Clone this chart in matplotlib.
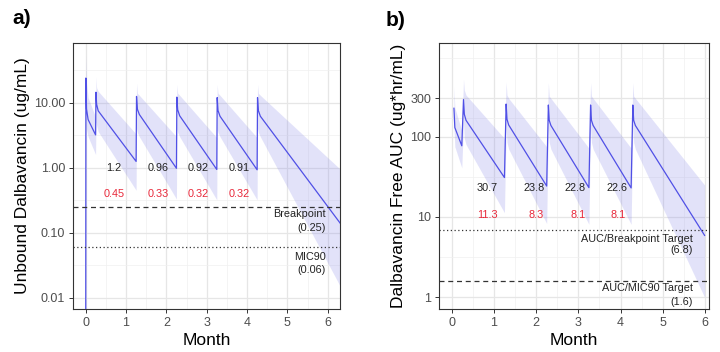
import matplotlib
matplotlib.use('Agg')
import matplotlib.pyplot as plt
from matplotlib.ticker import FixedLocator, NullFormatter

plt.rcParams['font.family'] = ['Liberation Sans', 'DejaVu Sans']

# ---------------- Panel a: unbound concentration ----------------
month_a = [0.0, 0.005, 0.02, 0.06, 0.245, 0.255, 0.27, 0.31, 1.25, 1.26, 1.28, 1.33,
           2.25, 2.26, 2.28, 2.33, 3.25, 3.26, 3.28, 3.33, 4.25, 4.26, 4.28, 4.33, 6.31]
median_a = [0.001, 24, 8, 5.5, 3.2, 14.5, 9.5, 7.5, 1.25, 12.5, 8.0, 6.6,
            0.98, 12.2, 7.8, 6.3, 0.94, 12.0, 7.6, 6.2, 0.93, 12.0, 7.6, 6.2, 0.14]
lower_a = [0.001, 10, 4, 3, 1.6, 5, 4.5, 3.6, 0.45, 4, 3.5, 3.0,
           0.33, 4, 3.5, 3.0, 0.32, 4, 3.5, 3.0, 0.32, 4, 3.5, 3.0, 0.015]
upper_a = [0.001, 55, 20, 12, 6, 25, 17, 15, 3.3, 20, 14, 13,
           3.0, 19, 14, 13, 2.9, 19, 14, 13, 2.9, 19, 14, 13, 0.95]
trough_x_a = [0.70, 1.79, 2.79, 3.81]
trough_med_a = ['1.2', '0.96', '0.92', '0.91']
trough_lo_a = ['0.45', '0.33', '0.32', '0.32']
breakpoint_a = 0.25
mic90_a = 0.06
yticks_a = [0.01, 0.1, 1, 10]
yticklabels_a = ['0.01', '0.10', '1.00', '10.00']

# ---------------- Panel b: free AUC ----------------
month_b = [0.054, 0.075, 0.24, 0.28, 0.30, 0.34, 1.25, 1.29, 1.31, 1.35,
           2.25, 2.29, 2.31, 2.35, 3.25, 3.29, 3.31, 3.35, 4.25, 4.29, 4.31, 4.35, 5.99]
median_b = [226, 130, 77, 290, 190, 160, 31, 255, 165, 140,
            24.3, 248, 160, 138, 23.2, 248, 160, 138, 23.0, 248, 160, 138, 5.9]
lower_b = [130, 75, 41, 150, 95, 80, 11.3, 130, 85, 70,
           8.3, 130, 85, 70, 8.1, 130, 85, 70, 8.1, 130, 85, 70, 1.0]
upper_b = [420, 230, 118, 520, 380, 330, 95, 480, 330, 300,
           75, 470, 320, 300, 72, 470, 320, 300, 72, 470, 320, 300, 25]
trough_x_b = [0.84, 1.95, 2.93, 3.91]
trough_red_x_b = [0.84, 2.01, 3.00, 3.95]
trough_med_b = ['30.7', '23.8', '22.8', '22.6']
trough_lo_b = ['11.3', '8.3', '8.1', '8.1']
auc_bp_b = 6.8
auc_mic_b = 1.6
yticks_b = [1, 10, 100, 300]
yticklabels_b = ['1', '10', '100', '300']

months = [0, 1, 2, 3, 4, 5, 6]

LINE = '#5050e6'
BAND = '#7a7ae6'
RED = '#e8283a'
TXT = '#222222'
GRID = '#e6e6e6'
ANN = 7.8

fig = plt.figure(figsize=(7.2, 3.52), dpi=100)
ax_a = fig.add_axes([73/720, 1-309/352, (340-73)/720, (309-43)/352])
ax_b = fig.add_axes([439/720, 1-309/352, (709-439)/720, (309-43)/352])


def style(ax, xlim, ylim, yticks, yticklabels, yminor, ylabel):
    ax.set_yscale('log')
    ax.set_xlim(*xlim)
    ax.set_ylim(*ylim)
    ax.xaxis.set_major_locator(FixedLocator(months))
    ax.set_xticklabels([str(m) for m in months])
    ax.xaxis.set_minor_locator(FixedLocator([m + 0.5 for m in months[:-1]]))
    ax.yaxis.set_major_locator(FixedLocator(yticks))
    ax.set_yticklabels(yticklabels)
    ax.yaxis.set_minor_locator(FixedLocator(yminor))
    ax.yaxis.set_minor_formatter(NullFormatter())
    ax.grid(True, which='major', color=GRID, lw=0.9, zorder=0)
    ax.grid(True, which='minor', color='#f0f0f0', lw=0.5, zorder=0)
    ax.set_axisbelow(True)
    ax.tick_params(which='major', length=3, width=0.7, color='#333333',
                   labelsize=9, labelcolor='#4d4d4d', pad=2.5)
    ax.tick_params(which='minor', length=0)
    for s in ax.spines.values():
        s.set_color('#333333')
        s.set_linewidth(0.8)
    ax.set_xlabel('Month', fontsize=12.5, color='black', labelpad=3)
    ax.set_ylabel(ylabel, fontsize=12.5, color='black', labelpad=3)


# Panel a
ax_a.fill_between(month_a, lower_a, upper_a, color=BAND, alpha=0.21, lw=0, zorder=2)
ax_a.plot(month_a, median_a, color=LINE, lw=0.9, zorder=3)
ax_a.axhline(breakpoint_a, color='#333333', lw=0.9, ls=(0, (4, 3)), zorder=3)
ax_a.axhline(mic90_a, color='#333333', lw=0.9, ls=(0, (1, 2)), zorder=3)
for x, m, l in zip(trough_x_a, trough_med_a, trough_lo_a):
    ax_a.text(x, 1.0, m, ha='center', va='center', fontsize=ANN, color=TXT, zorder=4)
    ax_a.text(x, 0.39, l, ha='center', va='center', fontsize=ANN, color=RED, zorder=4)
ax_a.text(5.96, 0.195, 'Breakpoint', ha='right', va='center', fontsize=ANN, color=TXT)
ax_a.text(5.96, 0.118, '(0.25)', ha='right', va='center', fontsize=ANN, color=TXT)
ax_a.text(5.96, 0.043, 'MIC90', ha='right', va='center', fontsize=ANN, color=TXT)
ax_a.text(5.96, 0.027, '(0.06)', ha='right', va='center', fontsize=ANN, color=TXT)
style(ax_a, (-0.315, 6.305), (0.0067, 83), yticks_a, yticklabels_a,
      [10**-1.5, 10**-0.5, 10**0.5, 10**1.5], 'Unbound Dalbavancin (ug/mL)')

# Panel b
ax_b.fill_between(month_b, lower_b, upper_b, color=BAND, alpha=0.21, lw=0, zorder=2)
ax_b.plot(month_b, median_b, color=LINE, lw=0.9, zorder=3)
ax_b.axhline(auc_bp_b, color='#333333', lw=0.9, ls=(0, (1, 2)), zorder=3)
ax_b.axhline(auc_mic_b, color='#333333', lw=0.9, ls=(0, (4, 3)), zorder=3)
for x, m in zip(trough_x_b, trough_med_b):
    ax_b.text(x, 22.8, m, ha='center', va='center', fontsize=ANN, color=TXT, zorder=4)
for x, l in zip(trough_red_x_b, trough_lo_b):
    ax_b.text(x, 10.6, l, ha='center', va='center', fontsize=ANN, color=RED, zorder=4)
ax_b.text(5.72, 5.3, 'AUC/Breakpoint Target', ha='right', va='center', fontsize=ANN, color=TXT)
ax_b.text(5.72, 3.9, '(6.8)', ha='right', va='center', fontsize=ANN, color=TXT)
ax_b.text(5.72, 1.3, 'AUC/MIC90 Target', ha='right', va='center', fontsize=ANN, color=TXT)
ax_b.text(5.72, 0.87, '(1.6)', ha='right', va='center', fontsize=ANN, color=TXT)
style(ax_b, (-0.30, 6.094), (0.715, 1468), yticks_b, yticklabels_b,
      [10**0.5, 10**1.5, 173, 950], 'Dalbavancin Free AUC (ug*hr/mL)')

fig.text(12/720, 1-19/352, 'a)', fontsize=15, fontweight='bold', va='center', ha='left')
fig.text(386/720, 1-20/352, 'b)', fontsize=15, fontweight='bold', va='center', ha='left')

fig.savefig('out.png', dpi=100)
